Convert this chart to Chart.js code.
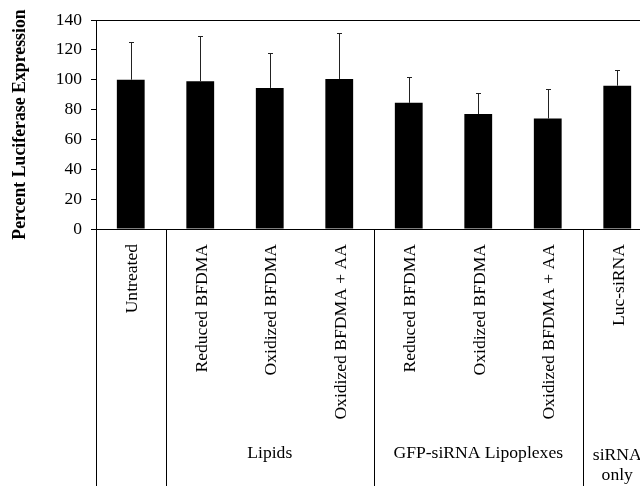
<!DOCTYPE html>
<html>
<head>
<meta charset="utf-8">
<script src="https://cdn.jsdelivr.net/npm/chart.js@4/dist/chart.umd.min.js"></script>
<style>
  html, body { margin: 0; padding: 0; background: #fff; overflow: hidden; }
  #wrap { width: 640px; height: 486px; overflow: hidden; }
</style>
</head>
<body>
<div id="wrap"><canvas id="chart" width="652" height="486"></canvas></div>
<script>
// values
const categories = [
  "Untreated",
  "Reduced BFDMA",
  "Oxidized BFDMA",
  "Oxidized BFDMA + AA",
  "Reduced BFDMA",
  "Oxidized BFDMA",
  "Oxidized BFDMA + AA",
  "Luc-siRNA",
];
const expression = [100, 99, 94.5, 100.5, 84.5, 77, 74, 96];
const upperError = [25.5, 30.5, 23.5, 31, 17.5, 14, 20, 10.5];
const yTicks = [0, 20, 40, 60, 80, 100, 120, 140];
// groups: label lines, first index, last index
const groupLabels = [["Lipids"], ["GFP-siRNA Lipoplexes"], ["siRNA", "only"]];
const groupStart = [1, 4, 7];
const groupEnd = [3, 6, 7];

const serif = "'Liberation Serif', 'Times New Roman', serif";

const decorations = {
  id: "decorations",
  afterDatasetsDraw(chart) {
    const ctx = chart.ctx;
    const y = chart.scales.y;
    const meta = chart.getDatasetMeta(0);
    ctx.save();
    ctx.strokeStyle = "#222";
    ctx.lineWidth = 1;
    meta.data.forEach((bar, i) => {
      const cx = Math.round(bar.x) + 0.5;
      const y0 = y.getPixelForValue(expression[i]);
      const y1 = Math.round(y.getPixelForValue(expression[i] + upperError[i])) + 0.5;
      ctx.beginPath();
      ctx.moveTo(cx, y0);
      ctx.lineTo(cx, y1);
      ctx.moveTo(cx - 2.5, y1);
      ctx.lineTo(cx + 2.5, y1);
      ctx.stroke();
    });
    ctx.restore();
  },
  afterDraw(chart) {
    const ctx = chart.ctx;
    const area = chart.chartArea;
    const x = chart.scales.x;
    const half = (x.getPixelForValue(1) - x.getPixelForValue(0)) / 2;
    const bottom = chart.height;
    ctx.save();
    ctx.strokeStyle = "#000";
    ctx.lineWidth = 1;
    // top frame line
    ctx.beginPath();
    ctx.moveTo(area.left, Math.round(area.top) + 0.5);
    ctx.lineTo(area.right, Math.round(area.top) + 0.5);
    // left axis carried down through the label area
    const lx = Math.round(area.left) + 0.5;
    ctx.moveTo(lx, area.bottom);
    ctx.lineTo(lx, bottom);
    groupStart.forEach((s) => {
      const bx = Math.round(x.getPixelForValue(s) - half) + 0.5;
      ctx.moveTo(bx, area.bottom);
      ctx.lineTo(bx, bottom);
    });
    ctx.stroke();

    ctx.fillStyle = "#000";
    ctx.font = "17.6px " + serif;

    // category labels, reading upward, ending just under the axis
    ctx.textAlign = "right";
    ctx.textBaseline = "middle";
    categories.forEach((label, i) => {
      ctx.save();
      ctx.translate(x.getPixelForValue(i) + 2, area.bottom + 15);
      ctx.rotate(-Math.PI / 2);
      ctx.fillText(label, 0, 0);
      ctx.restore();
    });

    ctx.textAlign = "center";
    groupLabels.forEach((lines, g) => {
      const cx = (x.getPixelForValue(groupStart[g]) + x.getPixelForValue(groupEnd[g])) / 2;
      const startY = lines.length > 1 ? 455 : 453;
      lines.forEach((t, k) => ctx.fillText(t, cx, startY + k * 20));
    });
    ctx.restore();
  },
};

new Chart(document.getElementById("chart"), {
  type: "bar",
  data: {
    labels: categories,
    datasets: [
      {
        data: expression,
        backgroundColor: "#000",
        borderWidth: 0,
        categoryPercentage: 1,
        barPercentage: 0.4,
      },
    ],
  },
  options: {
    responsive: false,
    animation: false,
    devicePixelRatio: 1,
    layout: { padding: { top: 20, left: 0, right: 0, bottom: 0 } },
    plugins: {
      legend: { display: false },
      tooltip: { enabled: false },
    },
    scales: {
      x: {
        grid: { display: false, drawTicks: false },
        border: { display: true, color: "#000", width: 1 },
        ticks: { display: false },
        afterFit(scale) {
          scale.height = 257;
        },
      },
      y: {
        min: 0,
        max: 140,
        afterBuildTicks(scale) {
          scale.ticks = yTicks.map((v) => ({ value: v }));
        },
        grid: {
          drawOnChartArea: false,
          drawTicks: true,
          tickLength: 5,
          color: "#000",
        },
        border: { display: true, color: "#000", width: 1 },
        ticks: {
          padding: 9,
          color: "#000",
          font: { family: serif, size: 17.5 },
        },
        title: {
          display: true,
          text: "Percent Luciferase Expression",
          color: "#000",
          font: { family: serif, size: 17.8, weight: "bold" },
          padding: { top: 10, bottom: 0 },
        },
        afterFit(scale) {
          scale.width = 96;
        },
      },
    },
  },
  plugins: [decorations],
});
</script>
</body>
</html>
